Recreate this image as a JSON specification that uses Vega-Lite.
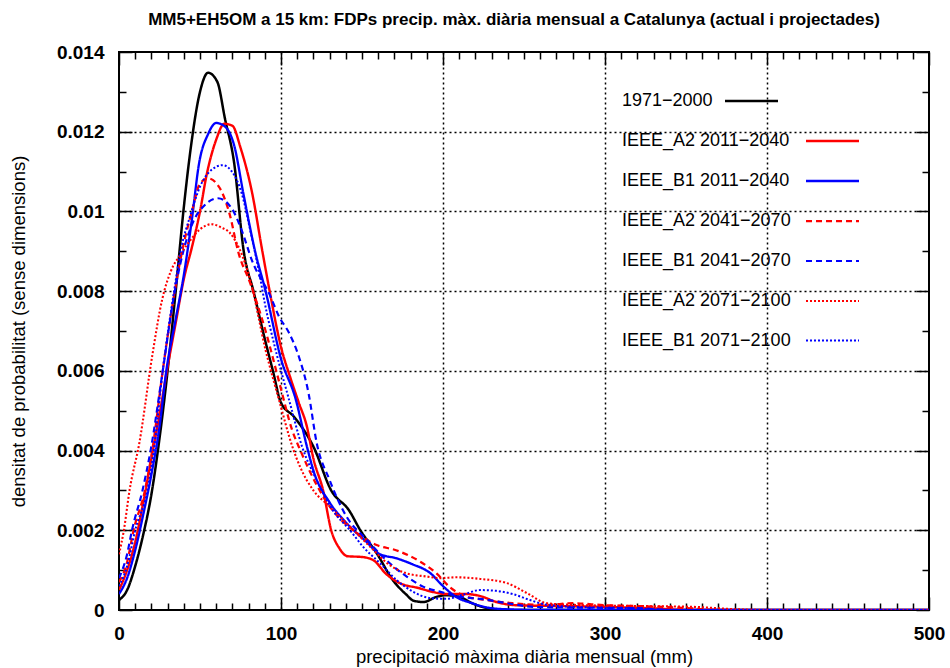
{
  "$schema": "https://vega.github.io/schema/vega-lite/v6.json",
  "width": 810,
  "height": 558,
  "autosize": {"type": "none"},
  "padding": {"left": 119, "top": 52, "right": 21, "bottom": 58},
  "background": "white",
  "title": {"text": "MM5+EH5OM a 15 km: FDPs precip. màx. diària mensual a Catalunya (actual i projectades)", "font": "Liberation Sans", "fontSize": 17, "fontWeight": "bold", "color": "black", "anchor": "middle", "offset": 14, "dx": -10},
  "config": {
    "view": {"stroke": "black", "strokeWidth": 2},
    "axis": {"labelFont": "Liberation Sans", "titleFont": "Liberation Sans", "labelColor": "black", "titleColor": "black", "tickColor": "black", "domain": false}
  },
  "data": {"values": [
    {"s":"1971−2000","x":0,"y":0.00025},{"s":"1971−2000","x":5,"y":0.0005},{"s":"1971−2000","x":10,"y":0.0011},{"s":"1971−2000","x":15,"y":0.0019},{"s":"1971−2000","x":20,"y":0.0029},{"s":"1971−2000","x":24,"y":0.004},{"s":"1971−2000","x":30,"y":0.006},{"s":"1971−2000","x":35,"y":0.008},{"s":"1971−2000","x":40,"y":0.0101},{"s":"1971−2000","x":44,"y":0.0115},{"s":"1971−2000","x":50,"y":0.013},{"s":"1971−2000","x":55,"y":0.01348},{"s":"1971−2000","x":60.7,"y":0.01325},{"s":"1971−2000","x":65.4,"y":0.01233},{"s":"1971−2000","x":71,"y":0.01124},{"s":"1971−2000","x":77,"y":0.009},{"s":"1971−2000","x":83,"y":0.008},{"s":"1971−2000","x":90,"y":0.0068},{"s":"1971−2000","x":95,"y":0.006},{"s":"1971−2000","x":100,"y":0.0052},{"s":"1971−2000","x":108,"y":0.00485},{"s":"1971−2000","x":120,"y":0.0041},{"s":"1971−2000","x":131,"y":0.003},{"s":"1971−2000","x":142,"y":0.0025},{"s":"1971−2000","x":149,"y":0.002},{"s":"1971−2000","x":159,"y":0.00143},{"s":"1971−2000","x":169,"y":0.00075},{"s":"1971−2000","x":177,"y":0.0004},{"s":"1971−2000","x":182,"y":0.00023},{"s":"1971−2000","x":188,"y":0.0002},{"s":"1971−2000","x":196,"y":0.00033},{"s":"1971−2000","x":202,"y":0.00037},{"s":"1971−2000","x":210,"y":0.00033},{"s":"1971−2000","x":218,"y":0.00017},{"s":"1971−2000","x":227,"y":0.00005},{"s":"1971−2000","x":240,"y":0},{"s":"1971−2000","x":500,"y":0},

    {"s":"IEEE_A2 2011−2040","x":0,"y":0.0005},{"s":"IEEE_A2 2011−2040","x":5,"y":0.001},{"s":"IEEE_A2 2011−2040","x":10,"y":0.0017},{"s":"IEEE_A2 2011−2040","x":15,"y":0.0027},{"s":"IEEE_A2 2011−2040","x":20,"y":0.0038},{"s":"IEEE_A2 2011−2040","x":25,"y":0.0049},{"s":"IEEE_A2 2011−2040","x":30,"y":0.0061},{"s":"IEEE_A2 2011−2040","x":35,"y":0.0072},{"s":"IEEE_A2 2011−2040","x":40,"y":0.0083},{"s":"IEEE_A2 2011−2040","x":45,"y":0.0091},{"s":"IEEE_A2 2011−2040","x":50,"y":0.01},{"s":"IEEE_A2 2011−2040","x":54,"y":0.0109},{"s":"IEEE_A2 2011−2040","x":60,"y":0.0118},{"s":"IEEE_A2 2011−2040","x":65,"y":0.0122},{"s":"IEEE_A2 2011−2040","x":70,"y":0.01215},{"s":"IEEE_A2 2011−2040","x":75,"y":0.0116},{"s":"IEEE_A2 2011−2040","x":82,"y":0.0105},{"s":"IEEE_A2 2011−2040","x":88.5,"y":0.009},{"s":"IEEE_A2 2011−2040","x":93,"y":0.008},{"s":"IEEE_A2 2011−2040","x":100,"y":0.0066},{"s":"IEEE_A2 2011−2040","x":106,"y":0.0058},{"s":"IEEE_A2 2011−2040","x":111,"y":0.0052},{"s":"IEEE_A2 2011−2040","x":116,"y":0.0046},{"s":"IEEE_A2 2011−2040","x":120,"y":0.0038},{"s":"IEEE_A2 2011−2040","x":126,"y":0.003},{"s":"IEEE_A2 2011−2040","x":131,"y":0.002},{"s":"IEEE_A2 2011−2040","x":136,"y":0.00155},{"s":"IEEE_A2 2011−2040","x":141,"y":0.00135},{"s":"IEEE_A2 2011−2040","x":150,"y":0.00133},{"s":"IEEE_A2 2011−2040","x":157,"y":0.00125},{"s":"IEEE_A2 2011−2040","x":165,"y":0.0009},{"s":"IEEE_A2 2011−2040","x":173,"y":0.00068},{"s":"IEEE_A2 2011−2040","x":185,"y":0.00055},{"s":"IEEE_A2 2011−2040","x":194,"y":0.00045},{"s":"IEEE_A2 2011−2040","x":202,"y":0.0004},{"s":"IEEE_A2 2011−2040","x":214,"y":0.0004},{"s":"IEEE_A2 2011−2040","x":223,"y":0.00035},{"s":"IEEE_A2 2011−2040","x":233,"y":0.0002},{"s":"IEEE_A2 2011−2040","x":245,"y":0.00012},{"s":"IEEE_A2 2011−2040","x":270,"y":0.0001},{"s":"IEEE_A2 2011−2040","x":300,"y":0.00008},{"s":"IEEE_A2 2011−2040","x":330,"y":0.00004},{"s":"IEEE_A2 2011−2040","x":350,"y":0},{"s":"IEEE_A2 2011−2040","x":500,"y":0},

    {"s":"IEEE_B1 2011−2040","x":0,"y":0.0004},{"s":"IEEE_B1 2011−2040","x":5,"y":0.0008},{"s":"IEEE_B1 2011−2040","x":10,"y":0.0015},{"s":"IEEE_B1 2011−2040","x":15,"y":0.0024},{"s":"IEEE_B1 2011−2040","x":20,"y":0.0034},{"s":"IEEE_B1 2011−2040","x":25,"y":0.0046},{"s":"IEEE_B1 2011−2040","x":29.2,"y":0.006},{"s":"IEEE_B1 2011−2040","x":35,"y":0.0073},{"s":"IEEE_B1 2011−2040","x":40,"y":0.0084},{"s":"IEEE_B1 2011−2040","x":45,"y":0.0098},{"s":"IEEE_B1 2011−2040","x":49.4,"y":0.0112},{"s":"IEEE_B1 2011−2040","x":55,"y":0.01194},{"s":"IEEE_B1 2011−2040","x":60,"y":0.01222},{"s":"IEEE_B1 2011−2040","x":65.4,"y":0.01213},{"s":"IEEE_B1 2011−2040","x":71,"y":0.01167},{"s":"IEEE_B1 2011−2040","x":77,"y":0.0104},{"s":"IEEE_B1 2011−2040","x":84,"y":0.009},{"s":"IEEE_B1 2011−2040","x":90.5,"y":0.008},{"s":"IEEE_B1 2011−2040","x":100,"y":0.0063},{"s":"IEEE_B1 2011−2040","x":109,"y":0.0053},{"s":"IEEE_B1 2011−2040","x":116,"y":0.0041},{"s":"IEEE_B1 2011−2040","x":120,"y":0.0035},{"s":"IEEE_B1 2011−2040","x":130,"y":0.0027},{"s":"IEEE_B1 2011−2040","x":140,"y":0.0022},{"s":"IEEE_B1 2011−2040","x":153,"y":0.0017},{"s":"IEEE_B1 2011−2040","x":161,"y":0.0014},{"s":"IEEE_B1 2011−2040","x":171,"y":0.0013},{"s":"IEEE_B1 2011−2040","x":181,"y":0.00115},{"s":"IEEE_B1 2011−2040","x":192,"y":0.00093},{"s":"IEEE_B1 2011−2040","x":200,"y":0.0006},{"s":"IEEE_B1 2011−2040","x":208,"y":0.00033},{"s":"IEEE_B1 2011−2040","x":218,"y":0.00017},{"s":"IEEE_B1 2011−2040","x":229,"y":0.00005},{"s":"IEEE_B1 2011−2040","x":245,"y":0.00001},{"s":"IEEE_B1 2011−2040","x":260,"y":0},{"s":"IEEE_B1 2011−2040","x":500,"y":0},

    {"s":"IEEE_A2 2041−2070","x":0,"y":0.0007},{"s":"IEEE_A2 2041−2070","x":5,"y":0.0012},{"s":"IEEE_A2 2041−2070","x":9,"y":0.002},{"s":"IEEE_A2 2041−2070","x":16,"y":0.003},{"s":"IEEE_A2 2041−2070","x":20.5,"y":0.004},{"s":"IEEE_A2 2041−2070","x":27,"y":0.006},{"s":"IEEE_A2 2041−2070","x":34,"y":0.0079},{"s":"IEEE_A2 2041−2070","x":40,"y":0.0092},{"s":"IEEE_A2 2041−2070","x":45,"y":0.01},{"s":"IEEE_A2 2041−2070","x":50,"y":0.0107},{"s":"IEEE_A2 2041−2070","x":55,"y":0.01083},{"s":"IEEE_A2 2041−2070","x":62,"y":0.0106},{"s":"IEEE_A2 2041−2070","x":68.5,"y":0.0099},{"s":"IEEE_A2 2041−2070","x":73.5,"y":0.009},{"s":"IEEE_A2 2041−2070","x":81,"y":0.0082},{"s":"IEEE_A2 2041−2070","x":90.5,"y":0.007},{"s":"IEEE_A2 2041−2070","x":99,"y":0.0057},{"s":"IEEE_A2 2041−2070","x":107,"y":0.0045},{"s":"IEEE_A2 2041−2070","x":112,"y":0.004},{"s":"IEEE_A2 2041−2070","x":130,"y":0.0026},{"s":"IEEE_A2 2041−2070","x":147,"y":0.00193},{"s":"IEEE_A2 2041−2070","x":159,"y":0.00163},{"s":"IEEE_A2 2041−2070","x":171,"y":0.0015},{"s":"IEEE_A2 2041−2070","x":186,"y":0.00121},{"s":"IEEE_A2 2041−2070","x":196,"y":0.00092},{"s":"IEEE_A2 2041−2070","x":204,"y":0.00058},{"s":"IEEE_A2 2041−2070","x":215,"y":0.00033},{"s":"IEEE_A2 2041−2070","x":227,"y":0.00025},{"s":"IEEE_A2 2041−2070","x":243,"y":0.00017},{"s":"IEEE_A2 2041−2070","x":264,"y":0.00013},{"s":"IEEE_A2 2041−2070","x":280,"y":0.00017},{"s":"IEEE_A2 2041−2070","x":300,"y":0.00012},{"s":"IEEE_A2 2041−2070","x":320,"y":0.0001},{"s":"IEEE_A2 2041−2070","x":350,"y":0.00005},{"s":"IEEE_A2 2041−2070","x":370,"y":0},{"s":"IEEE_A2 2041−2070","x":500,"y":0},

    {"s":"IEEE_B1 2041−2070","x":0,"y":0.0008},{"s":"IEEE_B1 2041−2070","x":5,"y":0.0014},{"s":"IEEE_B1 2041−2070","x":8,"y":0.002},{"s":"IEEE_B1 2041−2070","x":14.5,"y":0.003},{"s":"IEEE_B1 2041−2070","x":19.5,"y":0.004},{"s":"IEEE_B1 2041−2070","x":27,"y":0.006},{"s":"IEEE_B1 2041−2070","x":34,"y":0.0079},{"s":"IEEE_B1 2041−2070","x":39.7,"y":0.009},{"s":"IEEE_B1 2041−2070","x":45.8,"y":0.00974},{"s":"IEEE_B1 2041−2070","x":53,"y":0.01016},{"s":"IEEE_B1 2041−2070","x":61,"y":0.01033},{"s":"IEEE_B1 2041−2070","x":69.5,"y":0.01008},{"s":"IEEE_B1 2041−2070","x":75.7,"y":0.00953},{"s":"IEEE_B1 2041−2070","x":82,"y":0.00878},{"s":"IEEE_B1 2041−2070","x":93.6,"y":0.00786},{"s":"IEEE_B1 2041−2070","x":98.8,"y":0.00736},{"s":"IEEE_B1 2041−2070","x":105,"y":0.00695},{"s":"IEEE_B1 2041−2070","x":111,"y":0.00636},{"s":"IEEE_B1 2041−2070","x":117,"y":0.00544},{"s":"IEEE_B1 2041−2070","x":122,"y":0.0042},{"s":"IEEE_B1 2041−2070","x":130,"y":0.00326},{"s":"IEEE_B1 2041−2070","x":140.5,"y":0.00234},{"s":"IEEE_B1 2041−2070","x":153,"y":0.00176},{"s":"IEEE_B1 2041−2070","x":165,"y":0.00125},{"s":"IEEE_B1 2041−2070","x":177.6,"y":0.00084},{"s":"IEEE_B1 2041−2070","x":188,"y":0.00058},{"s":"IEEE_B1 2041−2070","x":198,"y":0.00046},{"s":"IEEE_B1 2041−2070","x":210.5,"y":0.00033},{"s":"IEEE_B1 2041−2070","x":223,"y":0.00028},{"s":"IEEE_B1 2041−2070","x":239.5,"y":0.00017},{"s":"IEEE_B1 2041−2070","x":255.6,"y":0.00008},{"s":"IEEE_B1 2041−2070","x":280,"y":0.00006},{"s":"IEEE_B1 2041−2070","x":320,"y":0.00005},{"s":"IEEE_B1 2041−2070","x":340,"y":0},{"s":"IEEE_B1 2041−2070","x":500,"y":0},

    {"s":"IEEE_A2 2071−2100","x":0,"y":0.0014},{"s":"IEEE_A2 2071−2100","x":3,"y":0.002},{"s":"IEEE_A2 2071−2100","x":6.5,"y":0.003},{"s":"IEEE_A2 2071−2100","x":12.6,"y":0.0042},{"s":"IEEE_A2 2071−2100","x":20.6,"y":0.0064},{"s":"IEEE_A2 2071−2100","x":26.7,"y":0.0078},{"s":"IEEE_A2 2071−2100","x":32,"y":0.0085},{"s":"IEEE_A2 2071−2100","x":37.6,"y":0.0089},{"s":"IEEE_A2 2071−2100","x":42.6,"y":0.0092},{"s":"IEEE_A2 2071−2100","x":50,"y":0.00955},{"s":"IEEE_A2 2071−2100","x":57,"y":0.00968},{"s":"IEEE_A2 2071−2100","x":63,"y":0.0096},{"s":"IEEE_A2 2071−2100","x":68.5,"y":0.00946},{"s":"IEEE_A2 2071−2100","x":74.7,"y":0.00903},{"s":"IEEE_A2 2071−2100","x":81,"y":0.00828},{"s":"IEEE_A2 2071−2100","x":90.5,"y":0.00652},{"s":"IEEE_A2 2071−2100","x":98.8,"y":0.00527},{"s":"IEEE_A2 2071−2100","x":107,"y":0.0041},{"s":"IEEE_A2 2071−2100","x":111.7,"y":0.0036},{"s":"IEEE_A2 2071−2100","x":120,"y":0.003},{"s":"IEEE_A2 2071−2100","x":130,"y":0.0026},{"s":"IEEE_A2 2071−2100","x":142.6,"y":0.00209},{"s":"IEEE_A2 2071−2100","x":155,"y":0.00159},{"s":"IEEE_A2 2071−2100","x":167,"y":0.00113},{"s":"IEEE_A2 2071−2100","x":177.6,"y":0.00092},{"s":"IEEE_A2 2071−2100","x":190,"y":0.00084},{"s":"IEEE_A2 2071−2100","x":198,"y":0.0008},{"s":"IEEE_A2 2071−2100","x":208.5,"y":0.00082},{"s":"IEEE_A2 2071−2100","x":223,"y":0.00078},{"s":"IEEE_A2 2071−2100","x":239,"y":0.00068},{"s":"IEEE_A2 2071−2100","x":251.6,"y":0.00043},{"s":"IEEE_A2 2071−2100","x":264,"y":0.00017},{"s":"IEEE_A2 2071−2100","x":280,"y":0.00013},{"s":"IEEE_A2 2071−2100","x":320,"y":0.0001},{"s":"IEEE_A2 2071−2100","x":354,"y":0.00008},{"s":"IEEE_A2 2071−2100","x":380,"y":0.00002},{"s":"IEEE_A2 2071−2100","x":400,"y":0},{"s":"IEEE_A2 2071−2100","x":500,"y":0},

    {"s":"IEEE_B1 2071−2100","x":0,"y":0.0006},{"s":"IEEE_B1 2071−2100","x":5,"y":0.0011},{"s":"IEEE_B1 2071−2100","x":10,"y":0.002},{"s":"IEEE_B1 2071−2100","x":17.5,"y":0.003},{"s":"IEEE_B1 2071−2100","x":21.5,"y":0.004},{"s":"IEEE_B1 2071−2100","x":27,"y":0.006},{"s":"IEEE_B1 2071−2100","x":34,"y":0.008},{"s":"IEEE_B1 2071−2100","x":38,"y":0.009},{"s":"IEEE_B1 2071−2100","x":43.8,"y":0.00987},{"s":"IEEE_B1 2071−2100","x":50,"y":0.01062},{"s":"IEEE_B1 2071−2100","x":57,"y":0.01104},{"s":"IEEE_B1 2071−2100","x":64,"y":0.01116},{"s":"IEEE_B1 2071−2100","x":70.4,"y":0.01096},{"s":"IEEE_B1 2071−2100","x":75.7,"y":0.01046},{"s":"IEEE_B1 2071−2100","x":81,"y":0.00953},{"s":"IEEE_B1 2071−2100","x":87,"y":0.00836},{"s":"IEEE_B1 2071−2100","x":90,"y":0.0077},{"s":"IEEE_B1 2071−2100","x":96.7,"y":0.00652},{"s":"IEEE_B1 2071−2100","x":105,"y":0.00527},{"s":"IEEE_B1 2071−2100","x":113,"y":0.0041},{"s":"IEEE_B1 2071−2100","x":122,"y":0.00326},{"s":"IEEE_B1 2071−2100","x":132,"y":0.0025},{"s":"IEEE_B1 2071−2100","x":142.6,"y":0.002},{"s":"IEEE_B1 2071−2100","x":150.6,"y":0.00159},{"s":"IEEE_B1 2071−2100","x":161,"y":0.00118},{"s":"IEEE_B1 2071−2100","x":171.4,"y":0.00075},{"s":"IEEE_B1 2071−2100","x":181.5,"y":0.00046},{"s":"IEEE_B1 2071−2100","x":192,"y":0.0003},{"s":"IEEE_B1 2071−2100","x":202,"y":0.00028},{"s":"IEEE_B1 2071−2100","x":212,"y":0.00038},{"s":"IEEE_B1 2071−2100","x":223,"y":0.0005},{"s":"IEEE_B1 2071−2100","x":233,"y":0.00048},{"s":"IEEE_B1 2071−2100","x":243,"y":0.0004},{"s":"IEEE_B1 2071−2100","x":253.7,"y":0.00025},{"s":"IEEE_B1 2071−2100","x":264,"y":0.00013},{"s":"IEEE_B1 2071−2100","x":280,"y":0.00008},{"s":"IEEE_B1 2071−2100","x":320,"y":0.00004},{"s":"IEEE_B1 2071−2100","x":340,"y":0},{"s":"IEEE_B1 2071−2100","x":500,"y":0}
  ]},
  "layer": [
    {
      "mark": {"type": "line", "interpolate": "monotone", "clip": true},
      "encoding": {
        "x": {"field": "x", "type": "quantitative",
          "scale": {"domain": [0, 500], "nice": false},
          "axis": {"orient": "bottom", "values": [0,10,20,30,40,50,60,70,80,90,100,110,120,130,140,150,160,170,180,190,200,210,220,230,240,250,260,270,280,290,300,310,320,330,340,350,360,370,380,390,400,410,420,430,440,450,460,470,480,490,500],
            "format": "d",
            "labelExpr": "datum.value % 100 === 0 ? datum.label : ''",
            "tickSize": {"condition": {"test": "datum.value % 100 === 0", "value": -13}, "value": -7},
            "tickWidth": 1.5,
            "grid": true, "gridColor": "black", "gridDash": [2, 3], "gridWidth": 1.5,
            "gridOpacity": {"condition": {"test": "datum.value % 100 === 0 && datum.value > 0 && datum.value < 500", "value": 1}, "value": 0},
            "labelFontSize": 19, "labelFontWeight": "bold", "labelPadding": 27, "labelFlush": false,
            "title": "precipitació màxima diària mensual (mm)", "titleFontSize": 18.5, "titleFontWeight": "normal", "titlePadding": 4}},
        "y": {"field": "y", "type": "quantitative",
          "scale": {"domain": [0, 0.014], "nice": false, "zero": false},
          "axis": {"orient": "left", "values": [0,0.001,0.002,0.003,0.004,0.005,0.006,0.007,0.008,0.009,0.01,0.011,0.012,0.013,0.014],
            "format": "~g",
            "labelExpr": "round(datum.value*1000) % 2 === 0 ? datum.label : ''",
            "tickSize": {"condition": {"test": "round(datum.value*1000) % 2 === 0", "value": -13}, "value": -7},
            "tickWidth": 1.5,
            "grid": true, "gridColor": "black", "gridDash": [2, 3], "gridWidth": 1.5,
            "gridOpacity": {"condition": {"test": "round(datum.value*1000) % 2 === 0 && datum.value > 0.0005 && datum.value < 0.0135", "value": 1}, "value": 0},
            "labelFontSize": 19, "labelFontWeight": "bold", "labelPadding": 28, "labelFlush": false,
            "title": "densitat de probabilitat (sense dimensions)", "titleFontSize": 18.5, "titleFontWeight": "normal", "titlePadding": 28}},
        "color": {"field": "s", "type": "nominal",
          "scale": {"domain": ["1971−2000","IEEE_A2 2011−2040","IEEE_B1 2011−2040","IEEE_A2 2041−2070","IEEE_B1 2041−2070","IEEE_A2 2071−2100","IEEE_B1 2071−2100"],
                    "range": ["#000000","#ff0000","#0000ff","#ff0000","#0000ff","#ff0000","#0000ff"]},
          "legend": {"title": null, "orient": "none", "legendX": 501, "legendY": 21, "padding": 0,
            "symbolType": "stroke", "symbolSize": 2809, "rowPadding": 3,
            "symbolOffset": 186, "labelOffset": -240, "labelLimit": 400,
            "labelFont": "Liberation Sans", "labelFontSize": 18, "labelColor": "black",
            "encode": {"symbols": {"update": {"x": {"signal": "datum.index === 0 ? 131.5 : 212.5"}}}}}},
        "strokeDash": {"field": "s", "type": "nominal",
          "scale": {"domain": ["1971−2000","IEEE_A2 2011−2040","IEEE_B1 2011−2040","IEEE_A2 2041−2070","IEEE_B1 2041−2070","IEEE_A2 2071−2100","IEEE_B1 2071−2100"],
                    "range": [[1,0],[1,0],[1,0],[6,4],[6,4],[2,2],[2,2]]}},
        "strokeWidth": {"field": "s", "type": "nominal",
          "scale": {"domain": ["1971−2000","IEEE_A2 2011−2040","IEEE_B1 2011−2040","IEEE_A2 2041−2070","IEEE_B1 2041−2070","IEEE_A2 2071−2100","IEEE_B1 2071−2100"],
                    "range": [2.5,2,2,2,2,1.5,1.5]}}
      }
    },
    {
      "mark": {"type": "point", "opacity": 0},
      "encoding": {
        "x": {"field": "x", "type": "quantitative",
          "axis": {"orient": "top", "values": [0,10,20,30,40,50,60,70,80,90,100,110,120,130,140,150,160,170,180,190,200,210,220,230,240,250,260,270,280,290,300,310,320,330,340,350,360,370,380,390,400,410,420,430,440,450,460,470,480,490,500],
            "labels": false, "grid": false, "title": null, "tickWidth": 1.5,
            "tickSize": {"condition": {"test": "datum.value % 100 === 0", "value": -13}, "value": -7}}},
        "y": {"field": "y", "type": "quantitative",
          "axis": {"orient": "right", "values": [0,0.001,0.002,0.003,0.004,0.005,0.006,0.007,0.008,0.009,0.01,0.011,0.012,0.013,0.014],
            "labels": false, "grid": false, "title": null, "tickWidth": 1.5,
            "tickSize": {"condition": {"test": "round(datum.value*1000) % 2 === 0", "value": -13}, "value": -7}}}
      }
    }
  ],
  "resolve": {"axis": {"x": "independent", "y": "independent"}}
}
